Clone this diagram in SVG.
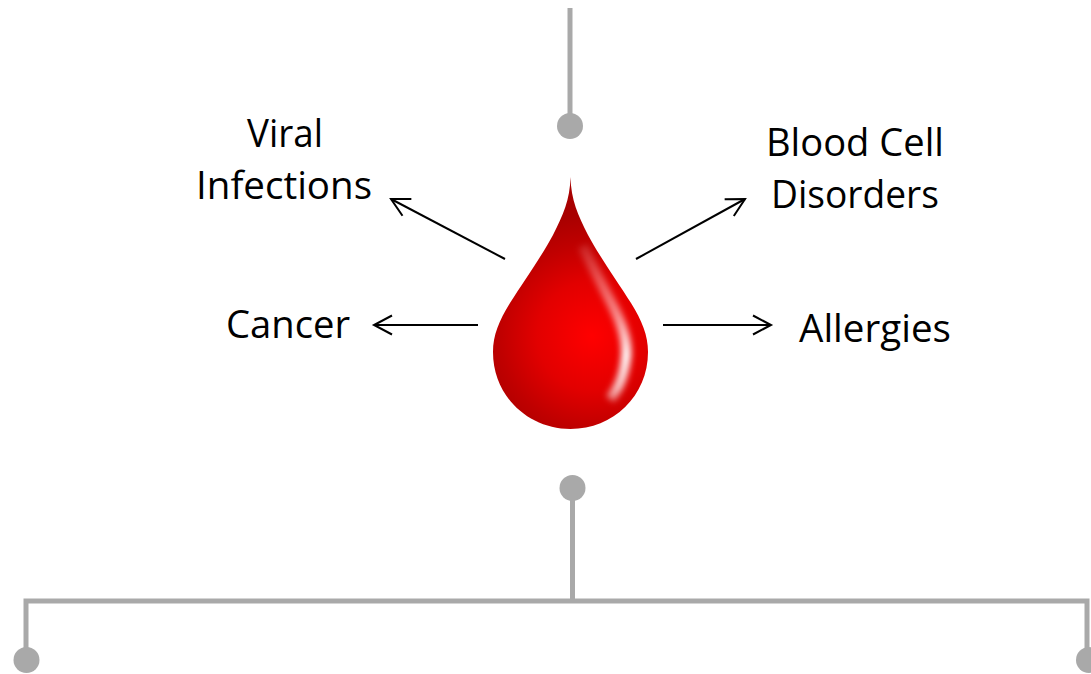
<svg xmlns="http://www.w3.org/2000/svg" width="1091" height="674" viewBox="0 0 1091 674">
<style>
.g{fill:none;stroke:#a9a9a9;stroke-width:5}
.d{fill:#a9a9a9}
.a{fill:none;stroke:#000;stroke-width:2}
text{font-family:"Open Sans","Noto Sans",sans-serif;font-size:38px;fill:#000;text-anchor:middle}
</style>
<defs>
<path id="dp" d="M570.500,177C570,200 563,215 553,235C543,254 524,281 510,303C499,321 493,335 493,352C493,396 528,429 570.500,429C613,429 648,396 648,352C648,335 642,321 631,303C617,281 598,254 588,235C578,215 571,200 570.500,177Z"/>
<clipPath id="dc"><use href="#dp"/></clipPath>
<radialGradient id="rg" gradientUnits="userSpaceOnUse" cx="592" cy="336" r="122">
<stop offset="0" stop-color="#ff0000"/>
<stop offset="0.45" stop-color="#e20000"/>
<stop offset="0.75" stop-color="#c00000"/>
<stop offset="1" stop-color="#a80000"/>
</radialGradient>
<linearGradient id="hl" gradientUnits="userSpaceOnUse" x1="0" y1="240" x2="0" y2="405">
<stop offset="0" stop-color="#fff" stop-opacity="0.1"/>
<stop offset="0.2" stop-color="#fff" stop-opacity="0.3"/>
<stop offset="0.45" stop-color="#fff" stop-opacity="0.55"/>
<stop offset="0.7" stop-color="#fff" stop-opacity="1"/>
<stop offset="0.9" stop-color="#fff" stop-opacity="0.75"/>
<stop offset="1" stop-color="#fff" stop-opacity="0.3"/>
</linearGradient>
<filter id="bl2" filterUnits="userSpaceOnUse" x="560" y="220" width="90" height="200"><feGaussianBlur stdDeviation="3"/></filter>
<marker id="ah" markerUnits="userSpaceOnUse" viewBox="-21 -12 24 24" refX="0" refY="0" markerWidth="24" markerHeight="24" orient="auto"><path d="M-18,-9.500 L0,0 L-18,9.500" fill="none" stroke="#000" stroke-width="2"/></marker>
</defs>
<g id="connectors">
<path class="g" d="M570,8V126"/>
<path class="g" d="M572.500,488V601M26,660V601H1087V660"/>
<path class="a" marker-end="url(#ah)" d="M505,259L391,199"/>
<path class="a" marker-end="url(#ah)" d="M636,259L745,199"/>
<path class="a" marker-end="url(#ah)" d="M478,325H374"/>
<path class="a" marker-end="url(#ah)" d="M663,325H771"/>
</g>
<g id="dot-top"><circle class="d" cx="570" cy="126" r="13"/></g>
<g id="dot-mid"><circle class="d" cx="572.500" cy="488" r="13"/></g>
<g id="dot-left"><circle class="d" cx="26.500" cy="660" r="13"/></g>
<g id="dot-right"><circle class="d" cx="1089" cy="660" r="13"/></g>
<g id="drop">
<use href="#dp" fill="url(#rg)"/>
<g clip-path="url(#dc)">
<path fill="none" stroke="url(#hl)" stroke-width="10" filter="url(#bl2)" d="M583,246C592,266 606,292 614,308C623,326 628,342 626,358C624,376 618,390 610,399"/>
</g>
</g>
<g id="label-viral"><text x="285" y="147" textLength="76" lengthAdjust="spacingAndGlyphs">Viral</text><text x="284" y="199" textLength="176" lengthAdjust="spacingAndGlyphs">Infections</text></g>
<g id="label-blood"><text x="855" y="156" textLength="178" lengthAdjust="spacingAndGlyphs">Blood Cell</text><text x="855" y="208" textLength="168" lengthAdjust="spacingAndGlyphs">Disorders</text></g>
<g id="label-cancer"><text x="288" y="338" textLength="124" lengthAdjust="spacingAndGlyphs">Cancer</text></g>
<g id="label-allergies"><text x="875" y="342" textLength="152" lengthAdjust="spacingAndGlyphs">Allergies</text></g>
</svg>
